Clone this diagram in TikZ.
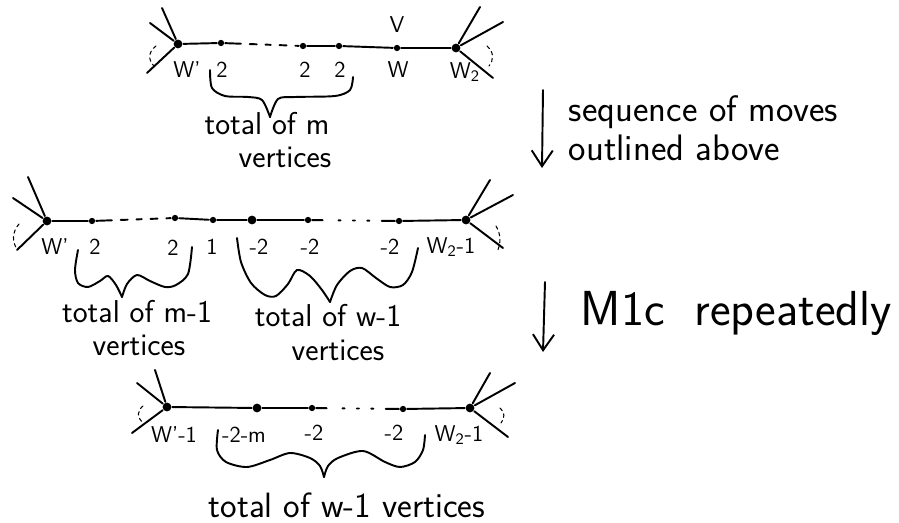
\documentclass[tikz,border=0pt]{standalone}
\usepackage{tikz}
\usetikzlibrary{arrows.meta}

\begin{document}
\begin{tikzpicture}[x=0.02cm, y=-0.02cm, line width=1.1pt, line cap=round,
    >={Straight Barb[length=9pt,width=12pt]},
    vtx/.style={circle, fill, inner sep=0pt, minimum size=3.6pt},
    bigvtx/.style={circle, fill, inner sep=0pt, minimum size=5pt},
    lbl/.style={font=\sffamily\fontsize{13}{15}\selectfont, inner sep=0pt},
    txt/.style={font=\sffamily\fontsize{18}{21}\selectfont, inner sep=0pt},
    movetxt/.style={font=\sffamily\fontsize{21}{24}\selectfont, inner sep=0pt, anchor=west},
    hint/.style={line width=0.6pt, dash pattern=on 2pt off 2pt},
    dashgap/.style={dash pattern=on 9pt off 5pt on 4pt off 5pt on 3pt off 5pt on 4pt off 5pt on 40pt},
    dotgap/.style={dash pattern=on 6pt off 9pt on 1.2pt off 7pt on 1.2pt off 7pt on 1.2pt off 7pt on 40pt}]
    \useasboundingbox (0,0) rectangle (899,523);

    % 1. Dong thu nhat
    \node[bigvtx] (a1) at (178,44) {};
    \node[vtx] (a2) at (221,43) {};
    \node[vtx] (a3) at (303,46) {};
    \node[vtx] (a4) at (339,46) {};
    \node[vtx] (a5) at (397,48) {};
    \node[bigvtx] (a6) at (456,48) {};
    \coordinate (la1) at (162,8);  \coordinate (la2) at (150,23);  \coordinate (la3) at (147,73);
    \coordinate (ra1) at (480,7);  \coordinate (ra2) at (503,22);  \coordinate (ra3) at (493,78);
    \draw (a1) -- (a2);
    \draw[dashgap] (a2) -- (a3);
    \draw (a3) -- (a4) -- (a5) -- (a6);
    \foreach \e in {la1,la2,la3} \draw (a1) -- (\e);
    \foreach \e in {ra1,ra2,ra3} \draw (a6) -- (\e);
    \draw[hint] (156,46) .. controls (148,52) and (148,60) .. (154,66);
    \draw[hint] (487,46) .. controls (494,52) and (494,60) .. (489,66);
    \node[lbl] (lv) at (397,25) {V};
    \node[lbl] (l1) at (187,70) {W'};
    \node[lbl] (l2) at (222,70) {2};
    \node[lbl] (l3) at (305,70) {2};
    \node[lbl] (l4) at (340,70) {2};
    \node[lbl] (l5) at (398,70) {W};
    \node[lbl] (l6) at (465,72) {W\textsubscript{2}};
    \draw plot[smooth] coordinates {(210,70) (212,88) (225,96) (248,97) (262,100) (270,117)};
    \draw plot[smooth] coordinates {(270,117) (278,99) (295,97) (335,96) (350,90) (353,77)};
    \node[txt] (t1) at (267,124) {total of m};
    \node[txt] (t2) at (285,157) {vertices};

    % 2. Mui ten thu nhat
    \coordinate (m1s) at (543,90);
    \coordinate (m1e) at (542,168);
    \draw[->] (m1s) -- (m1e);
    \node[movetxt] (s1) at (568,112) {sequence of moves};
    \node[movetxt] (s2) at (568,148) {outlined above};

    % 3. Dong thu hai
    \node[bigvtx] (b1) at (47,221) {};
    \node[vtx] (b2) at (92,221) {};
    \node[vtx] (b3) at (175,218) {};
    \node[vtx] (b4) at (213,220) {};
    \node[bigvtx] (b5) at (252,220) {};
    \node[vtx] (b6) at (308,220) {};
    \node[vtx] (b7) at (399,221) {};
    \node[bigvtx] (b8) at (466,220) {};
    \coordinate (lb1) at (28,177);  \coordinate (lb2) at (13,198);  \coordinate (lb3) at (17,250);
    \coordinate (rb1) at (490,180); \coordinate (rb2) at (513,195); \coordinate (rb3) at (503,248);
    \draw (b1) -- (b2);
    \draw[dashgap] (b2) -- (b3);
    \draw (b3) -- (b4) -- (b5) -- (b6);
    \draw[dotgap] (b6) -- (b7);
    \draw (b7) -- (b8);
    \foreach \e in {lb1,lb2,lb3} \draw (b1) -- (\e);
    \foreach \e in {rb1,rb2,rb3} \draw (b8) -- (\e);
    \draw[hint] (19,224) .. controls (12,232) and (12,242) .. (17,249);
    \draw[hint] (496,226) .. controls (501,234) and (501,244) .. (497,252);
    \node[lbl] (m1) at (55,247) {W'};
    \node[lbl] (m2) at (95,247) {2};
    \node[lbl] (m3) at (173,248) {2};
    \node[lbl] (m4) at (212,247) {1};
    \node[lbl] (m5) at (259,247) {-2};
    \node[lbl] (m6) at (310,247) {-2};
    \node[lbl] (m7) at (390,247) {-2};
    \node[lbl] (m8) at (451,247) {W\textsubscript{2}-1};
    \draw plot[smooth] coordinates {(78,250) (75,270) (78,283) (88,287) (100,281) (108,276) (116,285) (122,297)};
    \draw plot[smooth] coordinates {(122,297) (127,284) (137,275) (150,281) (165,287) (176,285) (188,274) (192,247)};
    \draw plot[smooth] coordinates {(237,238) (241,262) (251,283) (265,295) (276,296) (288,284) (297,270) (310,276) (322,290) (330,302)};
    \draw plot[smooth] coordinates {(330,302) (337,285) (350,271) (362,268) (376,278) (390,287) (403,285) (412,272) (418,248)};
    \node[txt] (u1) at (137,312) {total of m-1};
    \node[txt] (u2) at (139,345) {vertices};
    \node[txt] (u3) at (328,316) {total of w-1};
    \node[txt] (u4) at (338,350) {vertices};

    % 4. Mui ten thu hai
    \coordinate (m2s) at (545,282);
    \coordinate (m2e) at (543,352);
    \draw[->] (m2s) -- (m2e);
    \node[movetxt, font=\sffamily\fontsize{28}{32}\selectfont] (s3) at (580,313) {M1c\hspace{0.6em}repeatedly};

    % 5. Dong thu ba
    \node[bigvtx] (c1) at (167,407) {};
    \node[bigvtx] (c2) at (257,408) {};
    \node[vtx] (c3) at (312,408) {};
    \node[vtx] (c4) at (403,409) {};
    \node[bigvtx] (c5) at (470,408) {};
    \coordinate (lc1) at (155,370); \coordinate (lc2) at (137,383); \coordinate (lc3) at (132,433);
    \coordinate (rc1) at (490,373); \coordinate (rc2) at (515,383); \coordinate (rc3) at (508,437);
    \draw (c1) -- (c2) -- (c3);
    \draw[dotgap] (c3) -- (c4);
    \draw (c4) -- (c5);
    \foreach \e in {lc1,lc2,lc3} \draw (c1) -- (\e);
    \foreach \e in {rc1,rc2,rc3} \draw (c5) -- (\e);
    \draw[hint] (143,406) .. controls (137,411) and (137,417) .. (142,422);
    \draw[hint] (500,408) .. controls (505,412) and (505,418) .. (501,423);
    \node[lbl] (n1) at (174,435) {W'-1};
    \node[lbl] (n2) at (244,435) {-2-m};
    \node[lbl] (n3) at (314,433) {-2};
    \node[lbl] (n4) at (394,433) {-2};
    \node[lbl] (n5) at (459,435) {W\textsubscript{2}-1};
    \draw plot[smooth] coordinates {(218,430) (217,450) (226,462) (247,467) (270,460) (290,453) (310,458) (320,466) (324,477)};
    \draw plot[smooth] coordinates {(324,477) (328,466) (338,458) (363,451) (385,462) (400,467) (415,462) (423,450) (425,435)};
    \node[txt, font=\sffamily\fontsize{20}{24}\selectfont] (v1) at (347,505) {total of w-1 vertices};
\end{tikzpicture}
\end{document}
